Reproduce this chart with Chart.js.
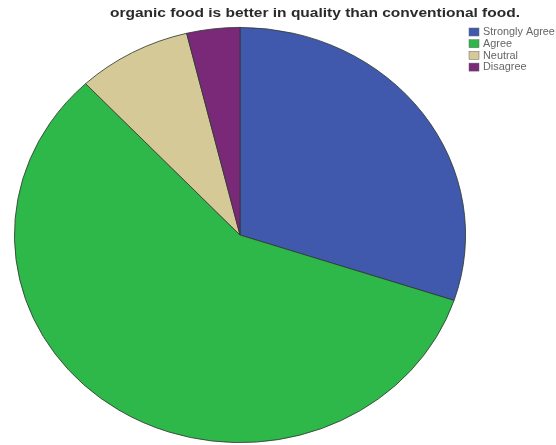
<!DOCTYPE html>
<html>
<head>
<meta charset="utf-8">
<script src="https://cdn.jsdelivr.net/npm/chart.js@4"></script>
<style>
  html, body { margin: 0; padding: 0; background: #fff; }
  canvas { display: block; }
</style>
</head>
<body>
<canvas id="ChartOrganic" width="556" height="445"></canvas>
<script>
var titleText = "organic food is better in quality than conventional food.";
var categories = ["Strongly Agree", "Agree", "Neutral", "Disagree"];
var percents = [30.1, 57.9, 8.2, 3.8];
var sliceColors = ["#4059ad", "#2fb84a", "#d5ca97", "#7a2878"];

// the SPSS picture is stretched sideways a little
var stretchX = 226 / 208;

var ellipsePlugin = {
    id: 'ellipse',
    beforeDatasetsDraw: function (chart) {
        var ctx = chart.ctx;
        var area = chart.chartArea;
        var cx = (area.left + area.right) / 2;
        ctx.save();
        ctx.translate(cx, 0);
        ctx.scale(stretchX, 1);
        ctx.translate(-cx, 0);
    },
    afterDatasetsDraw: function (chart) {
        chart.ctx.restore();
    }
};

function stretchedText(ctx, text, x, y, sx) {
    ctx.save();
    ctx.translate(x, y);
    ctx.scale(sx, 1);
    ctx.fillText(text, 0, 0);
    ctx.restore();
}

var textPlugin = {
    id: 'spssText',
    afterDraw: function (chart) {
        var ctx = chart.ctx;
        ctx.save();
        // title, fitted between x=110 and x=520
        ctx.fillStyle = "#2a2a2a";
        ctx.font = "bold 12px 'Liberation Sans', Arial, sans-serif";
        ctx.textAlign = "left";
        ctx.textBaseline = "middle";
        var w = ctx.measureText(titleText).width;
        stretchedText(ctx, titleText, 110, 14, 410 / w);

        // legend
        ctx.font = "10px 'Liberation Sans', Arial, sans-serif";
        for (var i = 0; i < categories.length; i++) {
            var y = 28 + i * 11.7;
            ctx.fillStyle = sliceColors[i];
            ctx.fillRect(469, y, 10, 8);
            ctx.strokeStyle = "#666";
            ctx.lineWidth = 0.5;
            ctx.strokeRect(469, y, 10, 8);
            ctx.fillStyle = "#666";
            stretchedText(ctx, categories[i], 483, y + 4.5, stretchX);
        }
        ctx.restore();
    }
};

var ctx = document.getElementById('ChartOrganic').getContext('2d');

var graph = new Chart(ctx, {
    type: 'pie',
    data: {
        labels: categories,
        datasets: [
            {
                label: titleText,
                backgroundColor: sliceColors,
                borderColor: "#2e3a30",
                borderWidth: 0.8,
                data: percents
            }
        ]
    },
    options: {
        responsive: false,
        animation: false,
        layout: {
            padding: { left: 32, right: 108, top: 27, bottom: 2 }
        },
        plugins: {
            legend: { display: false },
            title: { display: false },
            tooltip: { enabled: false }
        }
    },
    plugins: [ellipsePlugin, textPlugin]
});
</script>
</body>
</html>
